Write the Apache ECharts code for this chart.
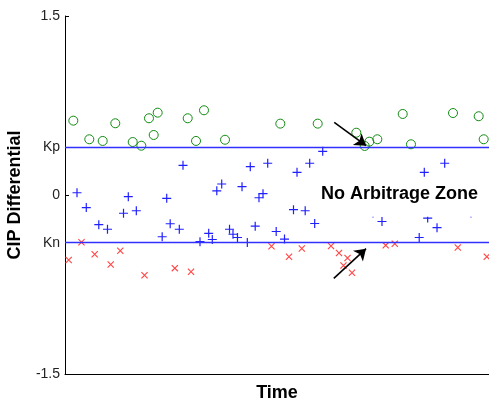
<!DOCTYPE html>
<html>
<head>
<meta charset="utf-8">
<script src="https://cdn.jsdelivr.net/npm/echarts@6/dist/echarts.min.js"></script>
<style>
html,body{margin:0;padding:0;background:#fff;}
#chart{width:489px;height:400px;}
</style>
</head>
<body>
<div id="chart"></div>
<script>
// ---- data ----
const Kp = 0.4;
const Kn = -0.4;
const yTickValues = [-1.5, -0.4, 0, 0.4, 1.5];
const yTickLabels = ['-1.5', 'Kn', '0', 'Kp', '1.5'];

// above upper bound (green circles)
const circleX = [1.96, 5.73, 8.89, 11.86, 15.97, 18.0, 19.81, 21.86, 20.92, 28.94, 32.78, 30.90, 37.74,
                 50.78, 59.60, 68.70, 70.68, 71.77, 73.66, 79.65, 81.60, 91.51, 97.57, 98.75];
const circleY = [0.623, 0.467, 0.453, 0.601, 0.444, 0.413, 0.643, 0.690, 0.503, 0.643, 0.710, 0.453, 0.463,
                 0.598, 0.598, 0.522, 0.411, 0.447, 0.467, 0.679, 0.425, 0.687, 0.660, 0.467];

// inside no-arbitrage zone (blue plus)
const plusX = [2.83, 5.02, 7.97, 10.02, 13.80, 14.93, 16.82, 22.92, 23.99, 24.81, 26.96, 27.83, 31.84, 33.89,
               34.74, 35.80, 36.96, 38.80, 39.62, 40.68, 41.75, 43.00, 43.70, 44.86, 45.75, 46.70, 47.81,
               49.81, 51.77, 53.89, 54.72, 56.65, 57.71, 58.89, 60.78, 72.64, 74.76, 83.54, 84.74, 85.54,
               87.74, 89.55, 95.75];
const plusY = [0.019, -0.105, -0.249, -0.287, -0.153, -0.014, -0.132, -0.350, -0.028, -0.241, -0.287, 0.249,
               -0.391, -0.321, -0.373, 0.035, 0.092, -0.287, -0.329, -0.356, 0.070, -0.398, 0.237, -0.261,
               -0.023, 0.011, 0.266, -0.306, -0.369, -0.123, 0.190, -0.132, 0.266, -0.239, 0.366, -0.151,
               -0.222, -0.356, 0.190, -0.193, -0.274, 0.266, -0.151];

// below lower bound (red x)
const crossX = [0.87, 3.89, 7.00, 10.78, 13.04, 18.75, 25.90, 29.72, 48.70, 52.83, 55.85, 62.74, 64.62,
                66.63, 65.68, 67.69, 75.64, 77.78, 92.64, 99.48];
const crossY = [-0.545, -0.396, -0.496, -0.582, -0.467, -0.672, -0.613, -0.643, -0.430, -0.517, -0.448,
                -0.427, -0.486, -0.528, -0.591, -0.651, -0.422, -0.409, -0.440, -0.517];

// annotations
const arrowStart = [[63.5, 0.609], [63.4, -0.698]];
const arrowEnd = [[71.0, 0.413], [71.0, -0.450]];
const zoneLabel = 'No Arbitrage Zone';
const zoneLabelPos = [60.4, 0.011];

// ---- chart ----
const zip = (xs, ys) => xs.map((x, i) => [x, ys[i]]);
const chart = echarts.init(document.getElementById('chart'), null, {renderer: 'canvas'});
const FONT = '"Liberation Sans", Arial, sans-serif';

chart.setOption({
  animation: false,
  backgroundColor: '#fff',
  grid: {left: 65, right: 0, top: 16, bottom: 26, containLabel: false, outerBoundsMode: 'none'},
  xAxis: {
    type: 'value', min: 0, max: 100,
    name: 'Time', nameLocation: 'middle', nameGap: 10,
    nameTextStyle: {fontFamily: FONT, fontWeight: 'bold', fontSize: 18, color: '#000'},
    axisLine: {show: true, onZero: false, lineStyle: {color: '#000', width: 1}},
    axisTick: {show: false}, axisLabel: {show: false}, splitLine: {show: false}
  },
  yAxis: {
    type: 'value', min: -1.5, max: 1.5,
    name: 'CIP Differential', nameLocation: 'middle', nameGap: 41, nameRotate: 90,
    nameMoveOverlap: false,
    nameTextStyle: {fontFamily: FONT, fontWeight: 'bold', fontSize: 18, color: '#000'},
    axisLine: {show: true, onZero: false, lineStyle: {color: '#000', width: 1}},
    axisTick: {show: true, inside: true, length: 4, customValues: yTickValues, lineStyle: {color: '#000'}},
    axisLabel: {
      show: true, customValues: yTickValues, margin: 5,
      fontFamily: FONT, fontSize: 14, color: '#222',
      formatter: function (v) {
        const i = yTickValues.findIndex(t => Math.abs(t - v) < 1e-9);
        return i >= 0 ? yTickLabels[i] : '';
      }
    },
    splitLine: {show: false}
  },
  series: [
    {
      type: 'line', data: [], z: 1, silent: true,
      markLine: {
        silent: true, symbol: 'none', animation: false,
        label: {show: false},
        lineStyle: {color: '#3030ff', width: 1.4, type: 'solid'},
        data: [{yAxis: Kp}, {yAxis: Kn}]
      }
    },
    {
      type: 'scatter', z: 3, data: zip(circleX, circleY),
      symbol: 'circle', symbolSize: 9,
      itemStyle: {color: 'rgba(0,0,0,0)', borderColor: '#128c12', borderWidth: 1, opacity: 1}
    },
    {
      type: 'scatter', z: 3, data: zip(plusX, plusY),
      symbol: 'path://M3.9,0H5.1V9H3.9ZM0,3.9H9V5.1H0Z', symbolSize: 9,
      itemStyle: {color: '#2020ff', opacity: 1}
    },
    {
      type: 'scatter', z: 3, data: zip(crossX, crossY),
      symbol: 'path://M0,0.8L0.8,0L7,6.2L6.2,7ZM6.2,0L7,0.8L0.8,7L0,6.2Z', symbolSize: 7,
      itemStyle: {color: '#ff4646', opacity: 1}
    },
    {
      type: 'line', data: [], z: 20, silent: true,
      markLine: {
        silent: true, animation: false,
        symbol: ['none', 'arrow'], symbolSize: 11,
        label: {show: false},
        lineStyle: {color: '#000', width: 1.6, type: 'solid'},
        emphasis: {disabled: true},
        data: arrowStart.map((s, i) => [{coord: s}, {coord: arrowEnd[i]}])
      }
    }
  ]
});

const p = chart.convertToPixel({gridIndex: 0}, zoneLabelPos);
chart.setOption({
  graphic: [
    {
      type: 'rect', z: 10, silent: true,
      shape: {x: p[0] - 4, y: p[1] - 15, width: 164, height: 38},
      style: {fill: '#fff'}
    },
    {
      type: 'text', z: 11, silent: true,
      x: p[0], y: p[1],
      style: {text: zoneLabel, fill: '#000', font: 'bold 18px "Liberation Sans", Arial, sans-serif',
              align: 'left', verticalAlign: 'middle'}
    }
  ]
});
</script>
</body>
</html>
